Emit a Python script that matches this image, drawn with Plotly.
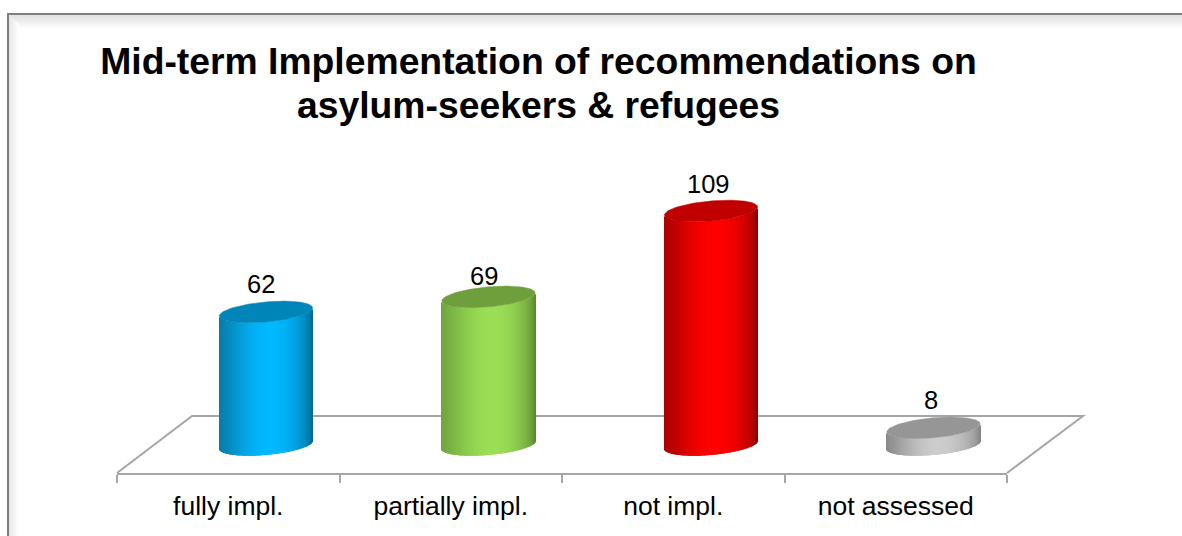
import numpy as np
import plotly.graph_objects as go

# ---- data ----
categories = ["fully impl.", "partially impl.", "not impl.", "not assessed"]
values = [62, 69, 109, 8]
title_lines = ["Mid-term Implementation of recommendations on", "asylum-seekers & refugees"]

# ---- colours: (left edge, lit centre, right edge) and the darker top cap ----
body_left = [(8, 124, 170), (112, 166, 62), (170, 0, 0), (138, 138, 138)]
body_mid = [(0, 184, 255), (155, 222, 85), (255, 0, 0), (204, 204, 204)]
body_right = [(0, 96, 136), (84, 128, 44), (130, 0, 0), (126, 126, 126)]
cap_colors = ["#0085b8", "#6f9f3c", "#c00000", "#969696"]

# label nudges, pixels, relative to the top of each cylinder
label_dx = [-5, -4, -2, -2]
label_dy = [-2, -9, -3, -2]

# ---- geometry of the plot ----
W, H = 1182, 536
PL, PR, PT, PB = 117, 1007, 170, 473
PX_PER_UNIT = 2.147
PX_PER_CAT = (PR - PL) / 4
y_low = -28 / PX_PER_UNIT
y_high = y_low + (PB - PT) / PX_PER_UNIT
SHIFT = 37.7 / PX_PER_CAT     # cylinders stand mid-way along the floor's depth
RX = 46.6 / PX_PER_CAT        # half width of a cylinder
TILT = 4 / PX_PER_UNIT        # ellipse shear
RY = 10 / PX_PER_UNIT         # ellipse half height
N = 94


def colour_at(u, left, mid, right):
    if u < 0.1:
        s = np.sin(np.clip((u + 1) / 1.1, 0, 1) * np.pi / 2) ** 1.2
        edge = left
    else:
        s = np.sin(np.clip((1 - u) / 0.9, 0, 1) * np.pi / 2) ** 0.55
        edge = right
    return "rgb({},{},{})".format(*[int(round(e + (m - e) * s)) for e, m in zip(edge, mid)])


fig = go.Figure()
u = -1 + (np.arange(N) + 0.5) * 2 / N
half = np.sqrt(1 - u ** 2)
theta = np.linspace(0, 2 * np.pi, 121)
for i, (cat, v) in enumerate(zip(categories, values)):
    fig.add_trace(go.Bar(
        x=i + SHIFT + u * RX,
        y=np.full(N, float(v)),
        base=TILT * u - RY * half,
        width=2 * RX / N,
        marker=dict(color=[colour_at(k, body_left[i], body_mid[i], body_right[i]) for k in u],
                    line=dict(width=0)),
        name=cat, showlegend=False, hoverinfo="skip",
    ))
for i, (cat, v) in enumerate(zip(categories, values)):
    fig.add_trace(go.Scatter(
        x=i + SHIFT + RX * np.cos(theta),
        y=v + TILT * np.cos(theta) + RY * np.sin(theta),
        mode="lines", fill="toself", fillcolor=cap_colors[i],
        line=dict(color=cap_colors[i], width=0.5),
        showlegend=False, hoverinfo="skip",
    ))


def xp(x):
    return (x - PL) / (PR - PL)


def yp(y):
    return (PB - y) / (PB - PT)


shapes = []
# soft inner shadow of the frame
for k in range(14):
    level = int(228 + (255 - 228) * (k / 13) ** 1.2)
    c = f"rgb({level},{level},{level})"
    shapes.append(dict(type="rect", xref="paper", yref="paper", layer="below",
                       x0=xp(9 + k), x1=xp(W), y0=yp(15 + k), y1=yp(16 + k),
                       fillcolor=c, line=dict(width=0)))
    if k < 10:
        level2 = int(232 + (255 - 232) * (k / 9))
        c2 = f"rgb({level2},{level2},{level2})"
        shapes.append(dict(type="rect", xref="paper", yref="paper", layer="below",
                           x0=xp(9 + k), x1=xp(10 + k), y0=yp(15 + k), y1=yp(H),
                           fillcolor=c2, line=dict(width=0)))
# frame
shapes.append(dict(type="path", xref="paper", yref="paper", layer="below",
                   path=f"M {xp(8)} {yp(H)} L {xp(8)} {yp(14)} L {xp(W)} {yp(14)}",
                   line=dict(color="#7f7f7f", width=2)))
# floor
FLOOR = "#a6a6a6"
shapes.append(dict(type="path", xref="paper", yref="paper", layer="below",
                   path=f"M {xp(PL)} {yp(PB)} L {xp(192)} {yp(416)} L {xp(1083)} {yp(416)} L {xp(PR)} {yp(PB)}",
                   line=dict(color=FLOOR, width=2)))

annotations = [
    dict(x=i + SHIFT, y=v + TILT + RY, xref="x", yref="y", text=str(v), showarrow=False,
         xanchor="center", yanchor="bottom", xshift=label_dx[i], yshift=label_dy[i],
         font=dict(family="Liberation Sans", size=25.5, color="#000000"))
    for i, v in enumerate(values)
]

title_font = dict(family="Liberation Sans", size=37.3, color="#000000", weight="bold")
annotations.append(dict(x=xp(538.5), y=yp(105), xref="paper", yref="paper",
                        text=title_lines[1], showarrow=False, xanchor="center", yanchor="middle",
                        font=title_font))

fig.update_layout(
    width=W, height=H,
    margin=dict(l=PL, r=W - PR, t=PT, b=H - PB, pad=0),
    paper_bgcolor="white", plot_bgcolor="rgba(0,0,0,0)",
    barmode="overlay", showlegend=False,
    shapes=shapes, annotations=annotations,
    title=dict(text=title_lines[0],
               xref="container", yref="container",
               x=538.5 / W, xanchor="center", y=1 - 48 / H, yanchor="top",
               font=title_font),
    xaxis=dict(range=[-0.5, len(categories) - 0.5], tickmode="array",
               tickvals=list(range(len(categories))), ticktext=categories,
               ticks="", showgrid=False, zeroline=False, showline=True,
               linecolor=FLOOR, linewidth=2,
               tickfont=dict(family="Liberation Sans", size=26.5, color="#000000"),
               ticklabelstandoff=8,
               minor=dict(tickmode="array",
                          tickvals=[k - 0.5 for k in range(len(categories) + 1)],
                          ticks="outside", ticklen=8, tickcolor=FLOOR, tickwidth=1.5,
                          showgrid=False)),
    yaxis=dict(range=[y_low, y_high], visible=False),
)

fig.write_html("out.html", config={"displayModeBar": False},
               post_script="document.body.style.margin='0';document.body.style.overflow='hidden';")
